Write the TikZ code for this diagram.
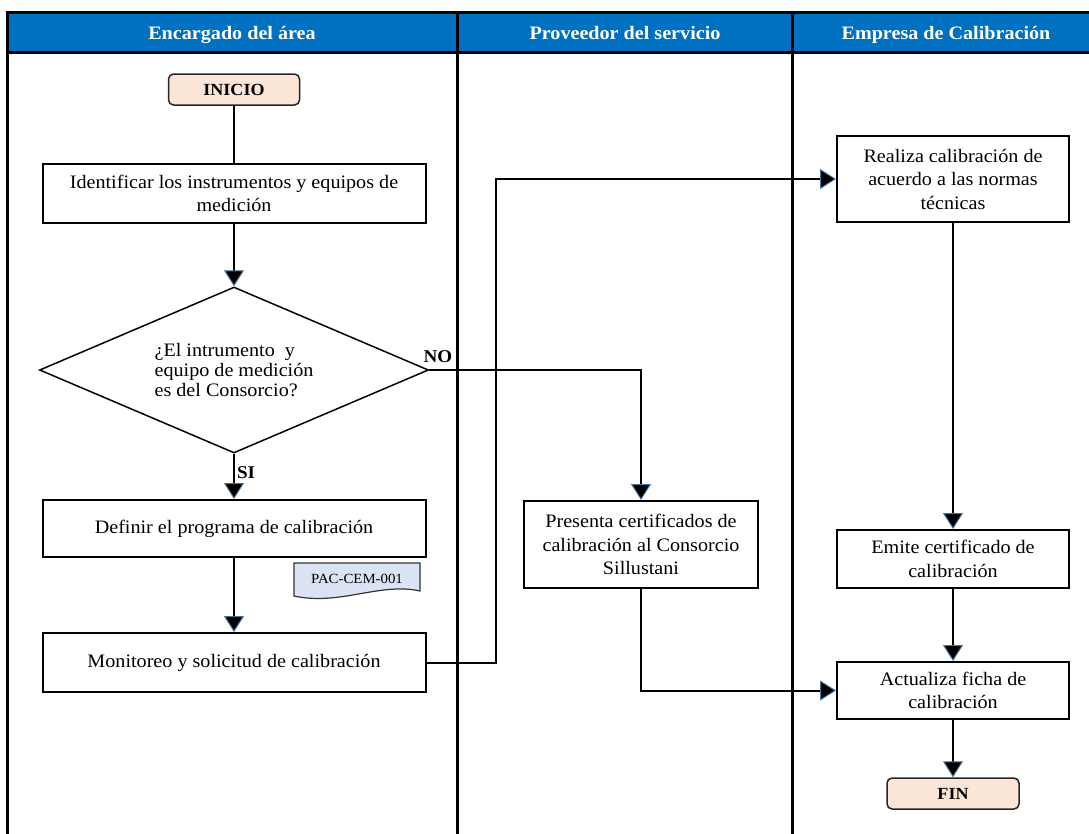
\documentclass[tikz,border=0pt]{standalone}
\usepackage{fontspec}
\setmainfont{Liberation Serif}[FakeStretch=1.06]
\usepackage{xcolor}
\usepackage{tikz}
\usetikzlibrary{arrows.meta, positioning, shapes.geometric}

\definecolor{laneblue}{HTML}{0070C0}
\definecolor{startfill}{HTML}{FBE5D6}
\definecolor{docfill}{HTML}{DAE3F3}
\definecolor{tipblue}{HTML}{41719C}

\tikzset{
  lane/.style={line width=3pt},
  lanehead/.style={text=white, text height=13pt, text depth=4pt, font=\fontsize{19}{23}\selectfont\bfseries},
  process/.style={draw, line width=2pt, rectangle, align=center, minimum width=383pt, minimum height=58pt, inner sep=2pt, font=\fontsize{19}{23.5}\selectfont},
  terminal/.style={draw=black!85, line width=1.5pt, fill=startfill, rounded corners=5pt, minimum width=131pt, minimum height=31pt, inner sep=0pt, font=\fontsize{17}{20}\selectfont\bfseries},
  decision/.style={draw, line width=1.5pt, diamond, aspect=2.3, minimum width=389pt, minimum height=166pt, inner sep=0pt, align=left, font=\fontsize{19}{20}\selectfont},
  docshape/.style={draw=black!80, line width=1.2pt, fill=docfill},
  doctext/.style={font=\fontsize{14}{16}\selectfont},
  tag/.style={inner sep=2pt, font=\fontsize{18}{20}\selectfont\bfseries},
  line/.style={line width=2pt},
  flow/.style={->, line width=2pt}
}

\begin{document}
\begin{tikzpicture}[>={Triangle[width=20pt, length=16pt, color=tipblue, fill=black, line width=1pt]}, x=1pt, y=-1pt, on grid]

        % Canvas
        \useasboundingbox (0,0) rectangle (1089,833);
        \clip (0,0) rectangle (1089,833);

        % Lanes
        \fill[laneblue] (7.5,12) rectangle (1100,52.5);
        \draw[lane] (1100,12) -- (7.5,12) -- (7.5,840);
        \draw[lane] (7.5,52.5) -- (1100,52.5);
        \draw[lane] (457.5,12) -- (457.5,840);
        \draw[lane] (792.5,12) -- (792.5,840);
        \node (laneA) [lanehead] at (232,35) {Encargado del área};
        \node (laneB) [lanehead] at (625,35) {Proveedor del servicio};
        \node (laneC) [lanehead] at (946,35) {Empresa de Calibración};

        % Nodes
        \node (inicio) [terminal] at (234,89.5) {INICIO};
        \node (ident) [process, minimum height=59pt, below=104pt of inicio] {Identificar los instrumentos y equipos de\\medición};
        \node (dec) [decision, below=176.5pt of ident] {¿El intrumento~ y\\equipo de medición\\es del Consorcio?};
        \node (definir) [process, minimum height=57pt, below=158.5pt of dec] {Definir el programa de calibración};
        \node (monit) [process, minimum height=59pt, below=134pt of definir] {Monitoreo y solicitud de calibración};
        \node (present) [process, minimum width=234pt, minimum height=87pt] at (641,544.5) {Presenta certificados de\\calibración al Consorcio\\Sillustani};
        \node (realiza) [process, minimum width=232pt, minimum height=86pt] at (953,179) {Realiza calibración de\\acuerdo a las normas\\técnicas};
        \node (emite) [process, minimum width=232pt, minimum height=58pt, below=380pt of realiza] {Emite certificado de\\calibración};
        \node (actual) [process, minimum width=232pt, minimum height=57pt, below=131.5pt of emite] {Actualiza ficha de\\calibración};
        \node (fin) [terminal, minimum width=132pt, below=103pt of actual] {FIN};

        % Document
        \draw[docshape] (294,563) -- (420,563) -- (420,591) .. controls (380,582) and (340,606) .. (294,596) -- cycle;
        \node (pac) [doctext] at (357,579) {PAC-CEM-001};

        % Arrows
        \draw[line] (inicio.south) -- (ident.north);
        \draw[flow] (ident.south) -- (dec.north);
        \draw[flow] (dec.south) -- node[tag, pos=0.42, right] {SI} (definir.north);
        \draw[flow] (definir.south) -- (monit.north);
        \draw[flow] (dec.east) -| (present.north);
        \node (no) [tag] at (438,357) {NO};
        \draw[flow] (monit.east) -- ++(69,0) |- (realiza.west);
        \draw[flow] (realiza.south) -- (emite.north);
        \draw[flow] (emite.south) -- (actual.north);
        \draw[flow] (present.south) |- (actual.west);
        \draw[flow] (actual.south) -- (fin.north);

      \end{tikzpicture}
\end{document}
